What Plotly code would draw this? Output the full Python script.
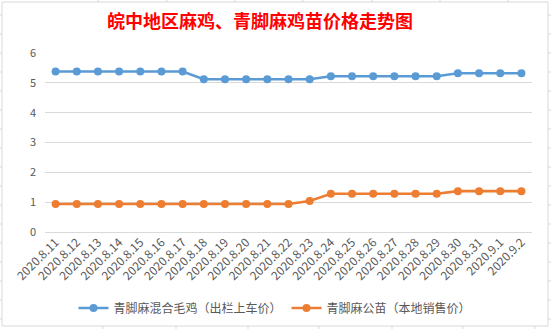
import plotly.graph_objects as go

dates = ["2020.8.11", "2020.8.12", "2020.8.13", "2020.8.14", "2020.8.15", "2020.8.16",
         "2020.8.17", "2020.8.18", "2020.8.19", "2020.8.20", "2020.8.21", "2020.8.22",
         "2020.8.23", "2020.8.24", "2020.8.25", "2020.8.26", "2020.8.27", "2020.8.28",
         "2020.8.29", "2020.8.30", "2020.8.31", "2020.9.1", "2020.9.2"]
mixed_chicken = [5.38, 5.38, 5.38, 5.38, 5.38, 5.38, 5.38, 5.12, 5.12, 5.12, 5.12, 5.12,
                 5.12, 5.22, 5.22, 5.22, 5.22, 5.22, 5.22, 5.32, 5.32, 5.32, 5.32]
male_chick = [0.94, 0.94, 0.94, 0.94, 0.94, 0.94, 0.94, 0.94, 0.94, 0.94, 0.94, 0.94,
              1.04, 1.28, 1.28, 1.28, 1.28, 1.28, 1.28, 1.37, 1.37, 1.37, 1.37]
name_mixed = "青脚麻混合毛鸡（出栏上车价）"
name_male = "青脚麻公苗（本地销售价）"
title_text = "皖中地区麻鸡、青脚麻鸡苗价格走势图"

W, H = 551, 329
ML, MR, MT, MB = 45, 19, 53, 97
PW, PH = W - ML - MR, H - MT - MB

def px(x):
    return (x - ML) / PW

def py(y):
    return 1 - (y - MT) / PH

FONT = "Microsoft YaHei, Noto Sans CJK SC, sans-serif"
GRAY = "#595959"

fig = go.Figure()
fig.add_trace(go.Scatter(x=dates, y=mixed_chicken, name=name_mixed, mode="lines+markers",
                         line=dict(color="#5B9BD5", width=2.6),
                         marker=dict(color="#5B9BD5", size=8)))
fig.add_trace(go.Scatter(x=dates, y=male_chick, name=name_male, mode="lines+markers",
                         line=dict(color="#ED7D31", width=2.6),
                         marker=dict(color="#ED7D31", size=8)))

shapes = []
shapes.append(dict(type="rect", xref="paper", yref="paper", x0=px(2), x1=px(548), y0=py(2), y1=py(326),
                   line=dict(color="#D9D9D9", width=1), fillcolor="rgba(0,0,0,0)", layer="below"))
for yy in range(15, 329, 19):
    shapes.append(dict(type="line", xref="paper", yref="paper", x0=px(0), x1=px(2), y0=py(yy), y1=py(yy),
                       line=dict(color="#D9D9D9", width=1)))
    shapes.append(dict(type="line", xref="paper", yref="paper", x0=px(548), x1=px(551), y0=py(yy), y1=py(yy),
                       line=dict(color="#D9D9D9", width=1)))
for xx in [98, 167, 235, 303, 372, 440, 508]:
    shapes.append(dict(type="line", xref="paper", yref="paper", x0=px(xx), x1=px(xx), y0=py(0), y1=py(2),
                       line=dict(color="#D9D9D9", width=1)))
for xx in [103, 176, 248, 319, 392, 463, 535]:
    shapes.append(dict(type="line", xref="paper", yref="paper", x0=px(xx), x1=px(xx), y0=py(326), y1=py(329),
                       line=dict(color="#D9D9D9", width=1)))

fig.update_layout(
    width=W, height=H,
    margin=dict(l=ML, r=MR, t=MT, b=MB, autoexpand=False),
    paper_bgcolor="white", plot_bgcolor="white",
    title=dict(text="<b>" + title_text + "</b>", x=260 / W, xanchor="center", y=1 - 22 / H, yanchor="middle",
               font=dict(family=FONT, size=18, color="#FF0000")),
    font=dict(family=FONT, color=GRAY),
    showlegend=True,
    legend=dict(orientation="h", x=px(275), xanchor="center", y=py(308), yanchor="middle",
                font=dict(family=FONT, size=12, color=GRAY), itemwidth=30, tracegroupgap=0,
                bgcolor="rgba(0,0,0,0)"),
    xaxis=dict(type="category", range=[-0.5, len(dates) - 0.5], showgrid=False, zeroline=False,
               showline=False, tickangle=-45, tickfont=dict(family=FONT, size=12, color=GRAY),
               ticks="", fixedrange=True, automargin=False),
    yaxis=dict(range=[0, 6], dtick=1, showgrid=True, gridcolor="#D9D9D9", gridwidth=1,
               zeroline=True, zerolinecolor="#D9D9D9", zerolinewidth=1, showline=False,
               tickfont=dict(family=FONT, size=11, color=GRAY), ticklabelstandoff=8, fixedrange=True,
               automargin=False),
    shapes=shapes,
)

fig.write_html("out.html")
